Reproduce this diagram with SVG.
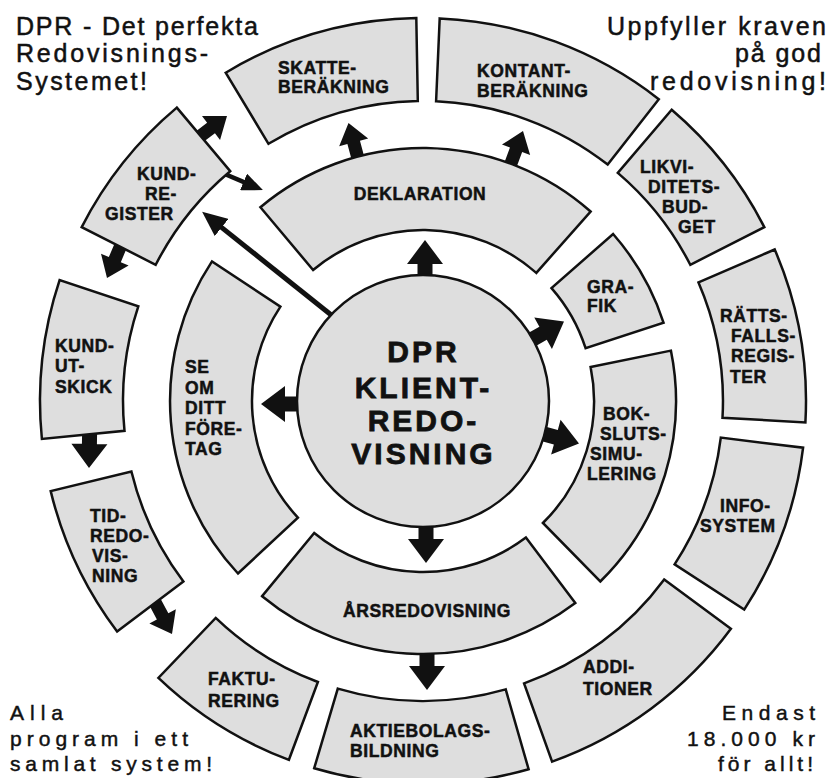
<svg xmlns="http://www.w3.org/2000/svg" xmlns:xlink="http://www.w3.org/1999/xlink" width="832" height="778" viewBox="0 0 832 778">
<style>
.seg{fill:#dedede;stroke:#111;stroke-width:2.5;stroke-linejoin:miter}
.lbl{font-family:"Liberation Sans",Arial,Helvetica,sans-serif;font-weight:bold;font-size:17.5px;letter-spacing:0.6px;fill:#111;stroke:#111;stroke-width:0.5px}
.mid{text-anchor:middle}
.ctr{font-family:"Liberation Sans",Arial,Helvetica,sans-serif;font-weight:bold;font-size:30px;letter-spacing:3px;fill:#111;stroke:#111;stroke-width:0.8px;text-anchor:middle}
.crn{font-family:"Liberation Sans",Arial,Helvetica,sans-serif;font-size:25px;fill:#111;stroke:#111;stroke-width:0.5px}
.crb{font-family:"Liberation Sans",Arial,Helvetica,sans-serif;font-size:21px;fill:#111;stroke:#111;stroke-width:0.45px}
.end{text-anchor:end}
.arr{fill:#111}
.thin{stroke:#111;fill:none}
</style>
<defs>
<path id="ab" d="M-42,-7.5 L-24,-7.5 L-24,-18 L0,0 L-24,18 L-24,7.5 L-42,7.5 Z"/>
<path id="am" d="M-40,-6.5 L-20,-6.5 L-20,-15 L0,0 L-20,15 L-20,6.5 L-40,6.5 Z"/>
<marker id="hs" markerUnits="userSpaceOnUse" markerWidth="21" markerHeight="18" refX="3" refY="9" orient="auto"><path d="M0,0 L21,9 L0,18 Z" fill="#111"/></marker>
<marker id="hl" markerUnits="userSpaceOnUse" markerWidth="25" markerHeight="22" refX="3" refY="11" orient="auto"><path d="M0,0 L25,11 L0,22 Z" fill="#111"/></marker>
</defs>
<rect width="832" height="778" fill="#fff"/>

<g id="connectors" class="arr">
<use xlink:href="#ab" href="#ab" transform="translate(425,240) rotate(-90)"/>
<use xlink:href="#ab" href="#ab" transform="translate(564,321.5) rotate(-29.4)"/>
<use xlink:href="#ab" href="#ab" transform="translate(579,443.5) rotate(15.2)"/>
<use xlink:href="#ab" href="#ab" transform="translate(261,404) rotate(180)"/>
<use xlink:href="#ab" href="#ab" transform="translate(426,563) rotate(90)"/>
<use xlink:href="#ab" href="#ab" transform="translate(427,690) rotate(90)"/>
<use xlink:href="#am" href="#am" transform="translate(348.5,123) rotate(-105)"/>
<use xlink:href="#am" href="#am" transform="translate(523,131) rotate(-69.7)"/>
<use xlink:href="#am" href="#am" transform="translate(227,116) rotate(-37)"/>
<use xlink:href="#am" href="#am" transform="translate(107,278) rotate(113)"/>
<use xlink:href="#ab" href="#ab" transform="translate(89,468) rotate(91)"/>
<use xlink:href="#am" href="#am" transform="translate(172,634) rotate(62)"/>
<line class="thin" x1="220" y1="172" x2="246.3" y2="183.1" stroke-width="4.5" marker-end="url(#hs)"/>
<line class="thin" x1="335" y1="318" x2="219.3" y2="225.6" stroke-width="5" marker-end="url(#hl)"/>
</g>

<g id="skatteberakning"><path class="seg" d="M225.7,72.7 A383,383 0 0 1 416.3,18.1 L417.8,101.0 A300,300 0 0 0 268.5,143.8 Z"/>
<text class="lbl" x="278" y="74">SKATTE-</text><text class="lbl" x="278" y="93">BERÄKNING</text></g>

<g id="kontantberakning"><path class="seg" d="M439.7,18.4 A383,383 0 0 1 658.8,99.2 L607.7,164.6 A300,300 0 0 0 436.1,101.3 Z"/>
<text class="lbl" x="477" y="77">KONTANT-</text><text class="lbl" x="477" y="97">BERÄKNING</text></g>

<g id="likviditetsbudget"><path class="seg" d="M671.7,109.8 A383,383 0 0 1 764.3,227.1 L690.3,264.8 A300,300 0 0 0 617.8,172.9 Z"/>
<text class="lbl" x="640" y="173">LIKVI-</text><text class="lbl" x="648" y="193">DITETS-</text><text class="lbl" x="662" y="213">BUD-</text><text class="lbl" x="678" y="233">GET</text></g>

<g id="rattsfallsregister"><path class="seg" d="M774.7,249.5 A383,383 0 0 1 805.4,422.4 L722.5,417.7 A300,300 0 0 0 698.5,282.4 Z"/>
<text class="lbl" x="720" y="322">RÄTTS-</text><text class="lbl" x="731" y="342">FALLS-</text><text class="lbl" x="731" y="362">REGIS-</text><text class="lbl" x="730" y="383">TER</text></g>

<g id="infosystem"><path class="seg" d="M803.1,447.7 A383,383 0 0 1 744.2,609.6 L674.6,564.4 A300,300 0 0 0 720.8,437.6 Z"/>
<text class="lbl" x="720" y="512">INFO-</text><text class="lbl" x="700" y="532">SYSTEM</text></g>

<g id="additioner"><path class="seg" d="M730.9,628.8 A383,383 0 0 1 552.1,761.6 L524.1,683.4 A300,300 0 0 0 664.2,579.4 Z"/>
<text class="lbl" x="583" y="673">ADDI-</text><text class="lbl" x="583" y="695">TIONER</text></g>

<g id="aktiebolagsbildning"><path class="seg" d="M528.6,769.2 A383,383 0 0 1 314.2,768.2 L337.8,688.6 A300,300 0 0 0 505.7,689.4 Z"/>
<text class="lbl" x="350" y="737">AKTIEBOLAGS-</text><text class="lbl" x="350" y="757">BILDNING</text></g>

<g id="fakturering"><path class="seg" d="M288.9,759.8 A383,383 0 0 1 158.4,677.9 L215.7,617.9 A300,300 0 0 0 317.9,682.0 Z"/>
<text class="lbl" x="208" y="685">FAKTU-</text><text class="lbl" x="208" y="707">RERING</text></g>

<g id="tidredovisning"><path class="seg" d="M117.1,631.5 A383,383 0 0 1 50.7,491.1 L131.4,471.5 A300,300 0 0 0 183.4,581.5 Z"/>
<text class="lbl" x="90" y="522">TID-</text><text class="lbl" x="90" y="542">REDO-</text><text class="lbl" x="92" y="562">VIS-</text><text class="lbl" x="92" y="582">NING</text></g>

<g id="kundutskick"><path class="seg" d="M41.9,439.0 A383,383 0 0 1 59.6,280.1 L138.3,306.3 A300,300 0 0 0 124.5,430.8 Z"/>
<text class="lbl" x="55" y="352">KUND-</text><text class="lbl" x="55" y="372">UT-</text><text class="lbl" x="55" y="393">SKICK</text></g>

<g id="kundregister"><path class="seg" d="M81.7,227.1 A383,383 0 0 1 176.8,107.6 L230.2,171.2 A300,300 0 0 0 155.7,264.8 Z"/>
<text class="lbl" x="137" y="180">KUND-</text><text class="lbl" x="145" y="200">RE-</text><text class="lbl" x="105" y="220">GISTER</text></g>

<g id="deklaration"><path class="seg" d="M260.4,207.2 A253,253 0 0 1 590.6,211.5 L536.3,272.9 A171,171 0 0 0 313.1,270.0 Z"/>
<text class="lbl mid" x="420" y="200">DEKLARATION</text></g>

<g id="grafik"><path class="seg" d="M613.1,234.0 A253,253 0 0 1 663.6,322.8 L585.6,348.2 A171,171 0 0 0 551.5,288.1 Z"/>
<text class="lbl" x="587" y="293">GRA-</text><text class="lbl" x="587" y="312">FIK</text></g>

<g id="bokslutssimulering"><path class="seg" d="M670.9,350.6 A253,253 0 0 1 600.3,581.5 L542.9,523.0 A171,171 0 0 0 590.6,366.9 Z"/>
<text class="lbl" x="603" y="420">BOK-</text><text class="lbl" x="600" y="440">SLUTS-</text><text class="lbl" x="590" y="460">SIMU-</text><text class="lbl" x="587" y="480">LERING</text></g>

<g id="arsredovisning"><path class="seg" d="M575.3,603.1 A253,253 0 0 1 262.1,596.2 L314.2,533.0 A171,171 0 0 0 525.9,537.6 Z"/>
<text class="lbl mid" x="427" y="617">ÅRSREDOVISNING</text></g>

<g id="seomdittforetag"><path class="seg" d="M238.0,573.5 A253,253 0 0 1 212.0,261.4 L280.4,306.6 A171,171 0 0 0 297.9,517.6 Z"/>
<text class="lbl" x="185" y="373">SE</text><text class="lbl" x="185" y="394">OM</text><text class="lbl" x="185" y="414">DITT</text><text class="lbl" x="185" y="435">FÖRE-</text><text class="lbl" x="185" y="455">TAG</text></g>

<g id="klientredovisning"><circle class="seg" cx="423" cy="401" r="126"/>
<text class="ctr" x="423.5" y="362">DPR</text><text class="ctr" x="423.5" y="398">KLIENT-</text><text class="ctr" x="423.5" y="431">REDO-</text><text class="ctr" x="423.5" y="464">VISNING</text></g>

<g id="corner-texts">
<text class="crn" x="16" y="35" textLength="242" lengthAdjust="spacing">DPR - Det perfekta</text>
<text class="crn" x="16" y="62" textLength="192" lengthAdjust="spacing">Redovisnings-</text>
<text class="crn" x="16" y="90" textLength="131" lengthAdjust="spacing">Systemet!</text>
<text class="crn end" x="826" y="35" textLength="219" lengthAdjust="spacing">Uppfyller kraven</text>
<text class="crn end" x="821" y="62" textLength="86" lengthAdjust="spacing">på god</text>
<text class="crn end" x="826" y="90" textLength="176" lengthAdjust="spacing">redovisning!</text>
<text class="crb" x="10" y="720" textLength="53" lengthAdjust="spacing">Alla</text>
<text class="crb" x="10" y="746" textLength="178" lengthAdjust="spacing">program i ett</text>
<text class="crb" x="10" y="771" textLength="202" lengthAdjust="spacing">samlat system!</text>
<text class="crb end" x="815" y="720" textLength="93" lengthAdjust="spacing">Endast</text>
<text class="crb end" x="815" y="746" textLength="128" lengthAdjust="spacing">18.000 kr</text>
<text class="crb end" x="813" y="771" textLength="95" lengthAdjust="spacing">för allt!</text>
</g>
</svg>
